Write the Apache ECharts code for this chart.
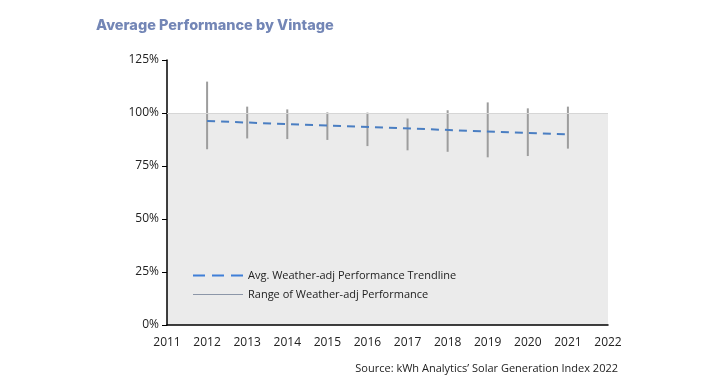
<!DOCTYPE html>
<html><head><meta charset="utf-8">
<script src="https://cdn.jsdelivr.net/npm/echarts@6/dist/echarts.min.js"></script>
<style>html,body{margin:0;padding:0;background:#fff}#c{width:720px;height:390px}</style>
</head><body><div id="c"></div>
<script>
const years = [2012, 2013, 2014, 2015, 2016, 2017, 2018, 2019, 2020, 2021];
const rangeLow = [82.9, 88.0, 87.7, 87.3, 84.4, 82.4, 81.7, 79.1, 79.7, 83.2];
const rangeHigh = [114.8, 103.0, 101.7, 100.3, 100.2, 97.4, 101.3, 105.0, 102.2, 103.0];
const trendYears = [2012, 2021];
const trendValues = [96.2, 89.9];
const yTicks = [0, 25, 50, 75, 100, 125];

const chart = echarts.init(document.getElementById('c'));
chart.setOption({
  animation: false,
  title: [{
    text: 'Average Performance by Vintage', left: 91, top: 13,
    textStyle: {fontFamily: 'Inter', fontWeight: 800, fontSize: 14.5, color: '#7386b6'}
  }, {
    text: "Source: kWh Analytics’ Solar Generation Index 2022", right: 97, top: 358,
    textStyle: {fontFamily: 'Open Sans', fontWeight: 'normal', fontSize: 11, color: '#222'}
  }],
  grid: {left: 167, right: 112, top: 60, bottom: 65},
  legend: {
    orient: 'vertical', left: 188, top: 265, itemWidth: 50, itemHeight: 10, itemGap: 8,
    textStyle: {fontFamily: 'Open Sans', fontSize: 11, color: '#222'},
    data: [
      {name: 'Avg. Weather-adj Performance Trendline', icon: 'path://M0,0 h12 v2 h-12 z M19,0 h12 v2 h-12 z M38,0 h12 v2 h-12 z', itemStyle: {color: '#3f7fd8'}},
      {name: 'Range of Weather-adj Performance', icon: 'path://M0,0 L50,0 L50,1 L0,1 Z', itemStyle: {color: '#8c96a8'}}
    ]
  },
  xAxis: {
    type: 'value', min: 2011, max: 2022, interval: 1,
    axisLine: {lineStyle: {color: '#000', width: 1.5}},
    axisTick: {show: false},
    splitLine: {show: false},
    axisLabel: {fontFamily: 'Open Sans', fontSize: 12, color: '#222', margin: 12, formatter: v => String(v)}
  },
  yAxis: {
    type: 'value', min: 0, max: 125, interval: 25,
    axisLine: {show: true, lineStyle: {color: '#000', width: 1.5}},
    axisTick: {show: true, length: 5, lineStyle: {color: '#000'}},
    splitLine: {show: false},
    axisLabel: {fontFamily: 'Open Sans', fontSize: 12, color: '#222', margin: 8,
      formatter: v => yTicks.includes(v) ? v + '%' : ''}
  },
  series: [{
    name: 'Avg. Weather-adj Performance Trendline',
    type: 'line', symbol: 'none', z: 5,
    data: trendYears.map((y, i) => [y, trendValues[i]]),
    lineStyle: {color: '#4a7ec2', width: 2, type: [8, 6]},
    itemStyle: {color: '#4a7ec2'},
    markArea: {
      silent: true, z: 0,
      itemStyle: {color: '#ebebeb'},
      data: [[{xAxis: 2011, yAxis: 0}, {xAxis: 2022, yAxis: 100}]]
    },
    markLine: {
      silent: true, symbol: 'none', label: {show: false},
      lineStyle: {color: '#d6d6d6', width: 1, type: 'solid'},
      data: [{yAxis: 100}]
    }
  }, {
    name: 'Range of Weather-adj Performance',
    type: 'custom', z: 4,
    itemStyle: {color: '#9d9d9d'},
    data: years.map((y, i) => [y, rangeLow[i], rangeHigh[i]]),
    renderItem: function (params, api) {
      const p1 = api.coord([api.value(0), api.value(1)]);
      const p2 = api.coord([api.value(0), api.value(2)]);
      return {type: 'line', shape: {x1: p1[0], y1: p1[1], x2: p2[0], y2: p2[1]},
        style: {stroke: '#9d9d9d', lineWidth: 2}};
    }
  }]
});
</script></body></html>
